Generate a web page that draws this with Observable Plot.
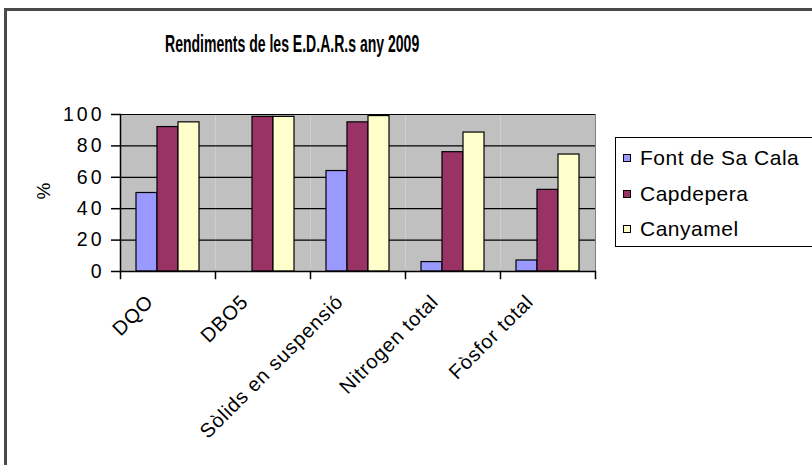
<!DOCTYPE html>
<html>
<head>
<meta charset="utf-8">
<script src="https://cdn.jsdelivr.net/npm/d3@7"></script>
<script src="https://cdn.jsdelivr.net/npm/@observablehq/plot@0.6"></script>
<style>
  html, body { margin: 0; padding: 0; background: #fff; }
  #wrap { position: relative; width: 812px; height: 465px; overflow: hidden; font-family: "Liberation Sans", Arial, sans-serif; }
  #border { position: absolute; left: 4px; top: 8px; width: 900px; height: 600px; border-top: 3px solid #4a4a4a; border-left: 3px solid #4a4a4a; }
  #chart { position: absolute; left: 0; top: 0; }
  #title { position: absolute; left: 165px; top: 31px; font-size: 23px; font-weight: bold; white-space: nowrap; transform: scaleX(0.61); transform-origin: left top; color: #000; }
  #ylabel { position: absolute; left: 43.5px; top: 190.5px; font-size: 19px; transform: translate(-50%, -50%) rotate(-90deg); color: #000; }
  #legend { position: absolute; left: 615px; top: 137px; width: 300px; height: 108px; border: 1px solid #000; background: #fff; }
  .item { position: absolute; left: 7px; height: 24px; display: flex; align-items: center; font-size: 21px; letter-spacing: 0.5px; color: #000; white-space: nowrap; }
  .sw { width: 6px; height: 6px; border: 1px solid #000; margin-right: 9px; }
</style>
</head>
<body>
<div id="wrap">
  <div id="border"></div>
  <div id="chart"></div>
  <div id="title"></div>
  <div id="ylabel"></div>
  <div id="legend"></div>
</div>
<script>
const titleText = "Rendiments de les E.D.A.R.s any 2009";
const yLabel = "%";
const categories = ["DQO", "DBO5", "Sòlids en suspensió", "Nitrogen total", "Fòsfor total"];
const series = ["Font de Sa Cala", "Capdepera", "Canyamel"];
const fontDeSaCala = [50, null, 64, 6, 7];
const capdepera = [92, 98.5, 95, 76, 52];
const canyamel = [95, 98.5, 99, 88.5, 74.5];
const yTicks = [0, 20, 40, 60, 80, 100];
const colors = ["#9999FF", "#993366", "#FFFFCC"];

const seriesValues = [fontDeSaCala, capdepera, canyamel];
const data = [];
categories.forEach((c, i) => {
  series.forEach((s, j) => {
    const v = seriesValues[j][i];
    if (v != null) data.push({category: c, series: s, value: v});
  });
});

const W = 812, H = 465;
const mTop = 114, mBottom = 194, mLeft = 120, mRight = 217;
const innerH = H - mTop - mBottom;

const chart = Plot.plot({
  width: W,
  height: H,
  marginTop: mTop,
  marginBottom: mBottom,
  marginLeft: mLeft,
  marginRight: mRight,
  style: {fontFamily: "Liberation Sans, Arial, sans-serif", color: "#000", background: "transparent", overflow: "visible"},
  fx: {domain: categories, padding: 0, label: null},
  x: {domain: series, paddingInner: 0, paddingOuter: 0.75, axis: null},
  y: {domain: [0, 100], axis: null, label: null},
  color: {domain: series, range: colors},
  marks: [
    Plot.frame({fill: "#C0C0C0", stroke: "none"}),
    Plot.ruleY(yTicks.filter(d => d > 0), {stroke: "#000", strokeWidth: 1.2}),
    Plot.barY(data, {fx: "category", x: "series", y: "value", fill: "series", stroke: "#000", strokeWidth: 1.2}),
    Plot.frame({anchor: "right", stroke: "#808080", facetAnchor: "right"}),
    Plot.frame({anchor: "left", stroke: "#000", strokeWidth: 1.5, facetAnchor: "left"}),
    Plot.ruleY([0], {stroke: "#000", strokeWidth: 1.5}),
    Plot.frame({anchor: "left", stroke: "#000", strokeWidth: 1.5, insetTop: innerH, insetBottom: -7}),
    Plot.frame({anchor: "right", stroke: "#000", strokeWidth: 1.5, insetTop: innerH, insetBottom: -7, facetAnchor: "right"}),
    Plot.axisY({ticks: yTicks, tickSize: 9, tickPadding: 7, fontSize: 19.5, tickFormat: d => String(d), strokeWidth: 1.5, anchor: "left", label: null}),
    Plot.axisFx({anchor: "bottom", tickRotate: -45, tickSize: 0, tickPadding: 27, fontSize: 20, dx: -18, label: null})
  ]
});
chart.querySelectorAll("g[aria-label='fx-axis tick label'] text").forEach(t => t.setAttribute("letter-spacing", "0.8"));
chart.querySelectorAll("g[aria-label='y-axis tick label'] text").forEach(t => t.setAttribute("letter-spacing", "3"));
document.getElementById("chart").appendChild(chart);

document.getElementById("title").textContent = titleText;
document.getElementById("ylabel").textContent = yLabel;
const legend = document.getElementById("legend");
const rowY = [8, 44, 79];
series.forEach((s, i) => {
  const it = document.createElement("div");
  it.className = "item";
  it.style.top = rowY[i] + "px";
  const sw = document.createElement("div");
  sw.className = "sw";
  sw.style.background = colors[i];
  const tx = document.createElement("span");
  tx.textContent = s;
  it.appendChild(sw);
  it.appendChild(tx);
  legend.appendChild(it);
});
</script>
</body>
</html>
